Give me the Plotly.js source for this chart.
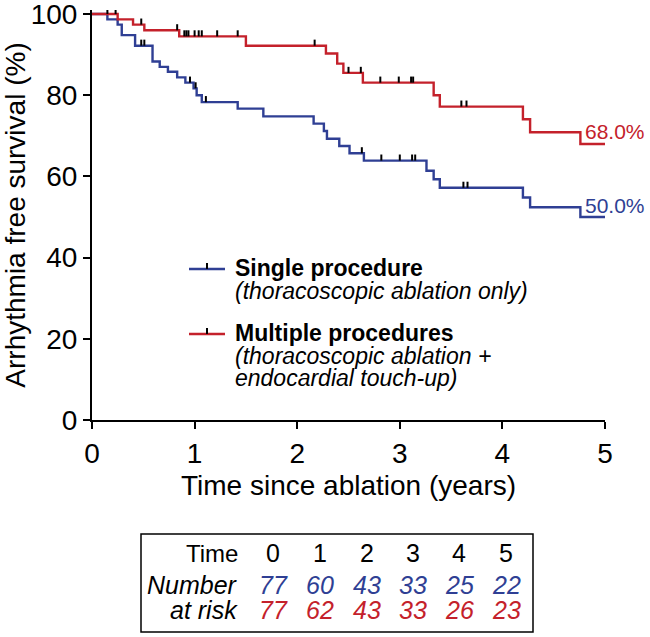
<!DOCTYPE html>
<html>
<head>
<meta charset="utf-8">
<script src="https://cdn.plot.ly/plotly-3.0.1.min.js"></script>
<style>html,body{margin:0;padding:0;background:#fff;}#chart{width:650px;height:637px;}</style>
</head>
<body>
<div id="chart"></div>
<script>
// ---- Data ----
const singleTimes = [0, 0.15, 0.25, 0.29, 0.42, 0.59, 0.66, 0.74, 0.83, 0.91, 0.99, 1.02, 1.07, 1.42, 1.67, 2.16, 2.26, 2.29, 2.41, 2.51, 2.65, 3.26, 3.33, 3.39, 4.20, 4.27, 4.76, 5.0];
const singleSurv  = [100, 98.7, 97.4, 94.8, 92.2, 88.3, 87.0, 85.8, 84.4, 83.1, 81.7, 80.0, 78.3, 76.7, 74.8, 73.0, 71.2, 69.3, 67.5, 65.7, 63.9, 61.4, 59.3, 57.2, 54.8, 52.4, 50.0, 50.0];
const singleCensor = [0.48, 0.51, 0.955, 1.01, 1.11, 2.63, 2.82, 3.00, 3.12, 3.15, 3.62, 3.66];

const multiTimes = [0, 0.25, 0.40, 0.51, 0.85, 1.50, 2.28, 2.39, 2.45, 2.64, 3.33, 3.39, 4.20, 4.27, 4.76, 5.0];
const multiSurv  = [100, 98.7, 97.4, 96.0, 94.5, 92.2, 90.3, 87.8, 85.5, 83.1, 80.0, 77.2, 74.1, 70.9, 68.0, 68.0];
const multiCensor = [0.15, 0.23, 0.48, 0.83, 0.90, 0.92, 0.94, 1.00, 1.04, 1.07, 1.22, 1.42, 2.17, 2.50, 2.62, 2.81, 2.99, 3.11, 3.13, 3.60, 3.65];

const endLabels = ["50.0%", "68.0%"];
const riskTimes = ["0", "1", "2", "3", "4", "5"];
const singleAtRisk = [77, 60, 43, 33, 25, 22];
const multiAtRisk  = [77, 62, 43, 33, 26, 23];

const BLUE = '#2f3f94';
const RED = '#c4212b';
const FONT = 'Liberation Sans, Arial, sans-serif';

// step-function lookup for the censor tick positions
function survAt(times, surv, t) {
  let v = surv[0];
  for (let i = 0; i < times.length; i++) { if (times[i] <= t) v = surv[i]; }
  return v;
}

// plot-area pixel frame
const L = 92, R = 605, T = 10, B = 420;
const px = x => (x - L) / (R - L);
const py = y => (B - y) / (B - T);

function censorTrace(times, surv, cens) {
  return {
    x: cens, y: cens.map(t => survAt(times, surv, t)),
    type: 'scatter', mode: 'markers', showlegend: false, hoverinfo: 'skip',
    marker: {size: 2, color: 'rgba(0,0,0,0)'},
    error_y: {type: 'constant', symmetric: false, value: 1.5, valueminus: 0, width: 0, thickness: 2, color: '#000'},
    cliponaxis: false
  };
}

const traces = [
  {x: singleTimes, y: singleSurv, type: 'scatter', mode: 'lines', line: {shape: 'hv', color: BLUE, width: 2.4}, showlegend: false, hoverinfo: 'skip'},
  {x: multiTimes, y: multiSurv, type: 'scatter', mode: 'lines', line: {shape: 'hv', color: RED, width: 2.4}, showlegend: false, hoverinfo: 'skip'},
  censorTrace(singleTimes, singleSurv, singleCensor),
  censorTrace(multiTimes, multiSurv, multiCensor)
];

const ann = [];
const shapes = [];
function txt(text, x, y, size, color, anchor) {
  ann.push({text: text, x: px(x), y: py(y), xref: 'paper', yref: 'paper', xanchor: anchor || 'left', yanchor: 'middle',
    showarrow: false, borderpad: 0, font: {family: FONT, size: size, color: color || '#000'}});
}

// end labels
txt(endLabels[1], 584, 131, 21, RED);
txt(endLabels[0], 584, 205, 21, BLUE);

// legend
function legendSym(y, color) {
  shapes.push({type: 'line', xref: 'paper', yref: 'paper', x0: px(189), x1: px(225), y0: py(y), y1: py(y), line: {color: color, width: 2.4}});
  shapes.push({type: 'line', xref: 'paper', yref: 'paper', x0: px(207), x1: px(207), y0: py(y), y1: py(y - 6), line: {color: '#000', width: 2}});
}
legendSym(269, BLUE);
legendSym(334, RED);
txt('<b>Single procedure</b>', 234, 268, 23);
txt('<i>(thoracoscopic ablation only)</i>', 234, 291, 23);
txt('<b>Multiple procedures</b>', 234, 333, 23);
txt('<i>(thoracoscopic ablation +</i>', 234, 356, 23);
txt('<i>endocardial touch-up)</i>', 234, 378, 23);

// number at risk table
shapes.push({type: 'rect', xref: 'paper', yref: 'paper', x0: px(141), x1: px(533), y0: py(534), y1: py(632), line: {color: '#000', width: 1.5}});
const colX = [273, 320, 367, 413, 459, 506];
txt('Time', 239, 553, 24, '#000', 'right');
txt('<i>Number</i>', 239, 585, 25, '#000', 'right');
txt('<i>at risk</i>', 239, 610, 25, '#000', 'right');
riskTimes.forEach((t, i) => {
  txt(t, colX[i], 553, 25, '#000', 'center');
  txt('<i>' + singleAtRisk[i] + '</i>', colX[i], 585, 25, BLUE, 'center');
  txt('<i>' + multiAtRisk[i] + '</i>', colX[i], 610, 25, RED, 'center');
});

const layout = {
  width: 650, height: 637,
  margin: {l: L, r: 650 - R, t: T, b: 637 - B},
  paper_bgcolor: '#fff', plot_bgcolor: '#fff',
  font: {family: FONT, color: '#000'},
  xaxis: {
    range: [0, 5], tickvals: [0, 1, 2, 3, 4, 5], showgrid: false, zeroline: false,
    showline: true, linewidth: 2, linecolor: '#000', ticks: 'outside', ticklen: 7, tickwidth: 2, tickcolor: '#000',
    ticklabeloverflow: 'allow',
    tickfont: {family: FONT, size: 28, color: '#000'},
    title: {text: 'Time since ablation (years)', font: {family: FONT, size: 28, color: '#000'}, standoff: 8}
  },
  yaxis: {
    range: [0, 101], tickvals: [0, 20, 40, 60, 80, 100], showgrid: false, zeroline: false,
    showline: true, linewidth: 2, linecolor: '#000', ticks: 'outside', ticklen: 7, tickwidth: 2, tickcolor: '#000',
    ticklabeloverflow: 'allow',
    tickfont: {family: FONT, size: 28, color: '#000'},
    title: {text: 'Arrhythmia free survival (%)', font: {family: FONT, size: 28, color: '#000'}, standoff: 4}
  },
  annotations: ann,
  shapes: shapes,
  showlegend: false
};

Plotly.newPlot('chart', traces, layout, {staticPlot: true, displayModeBar: false});
</script>
</body>
</html>
